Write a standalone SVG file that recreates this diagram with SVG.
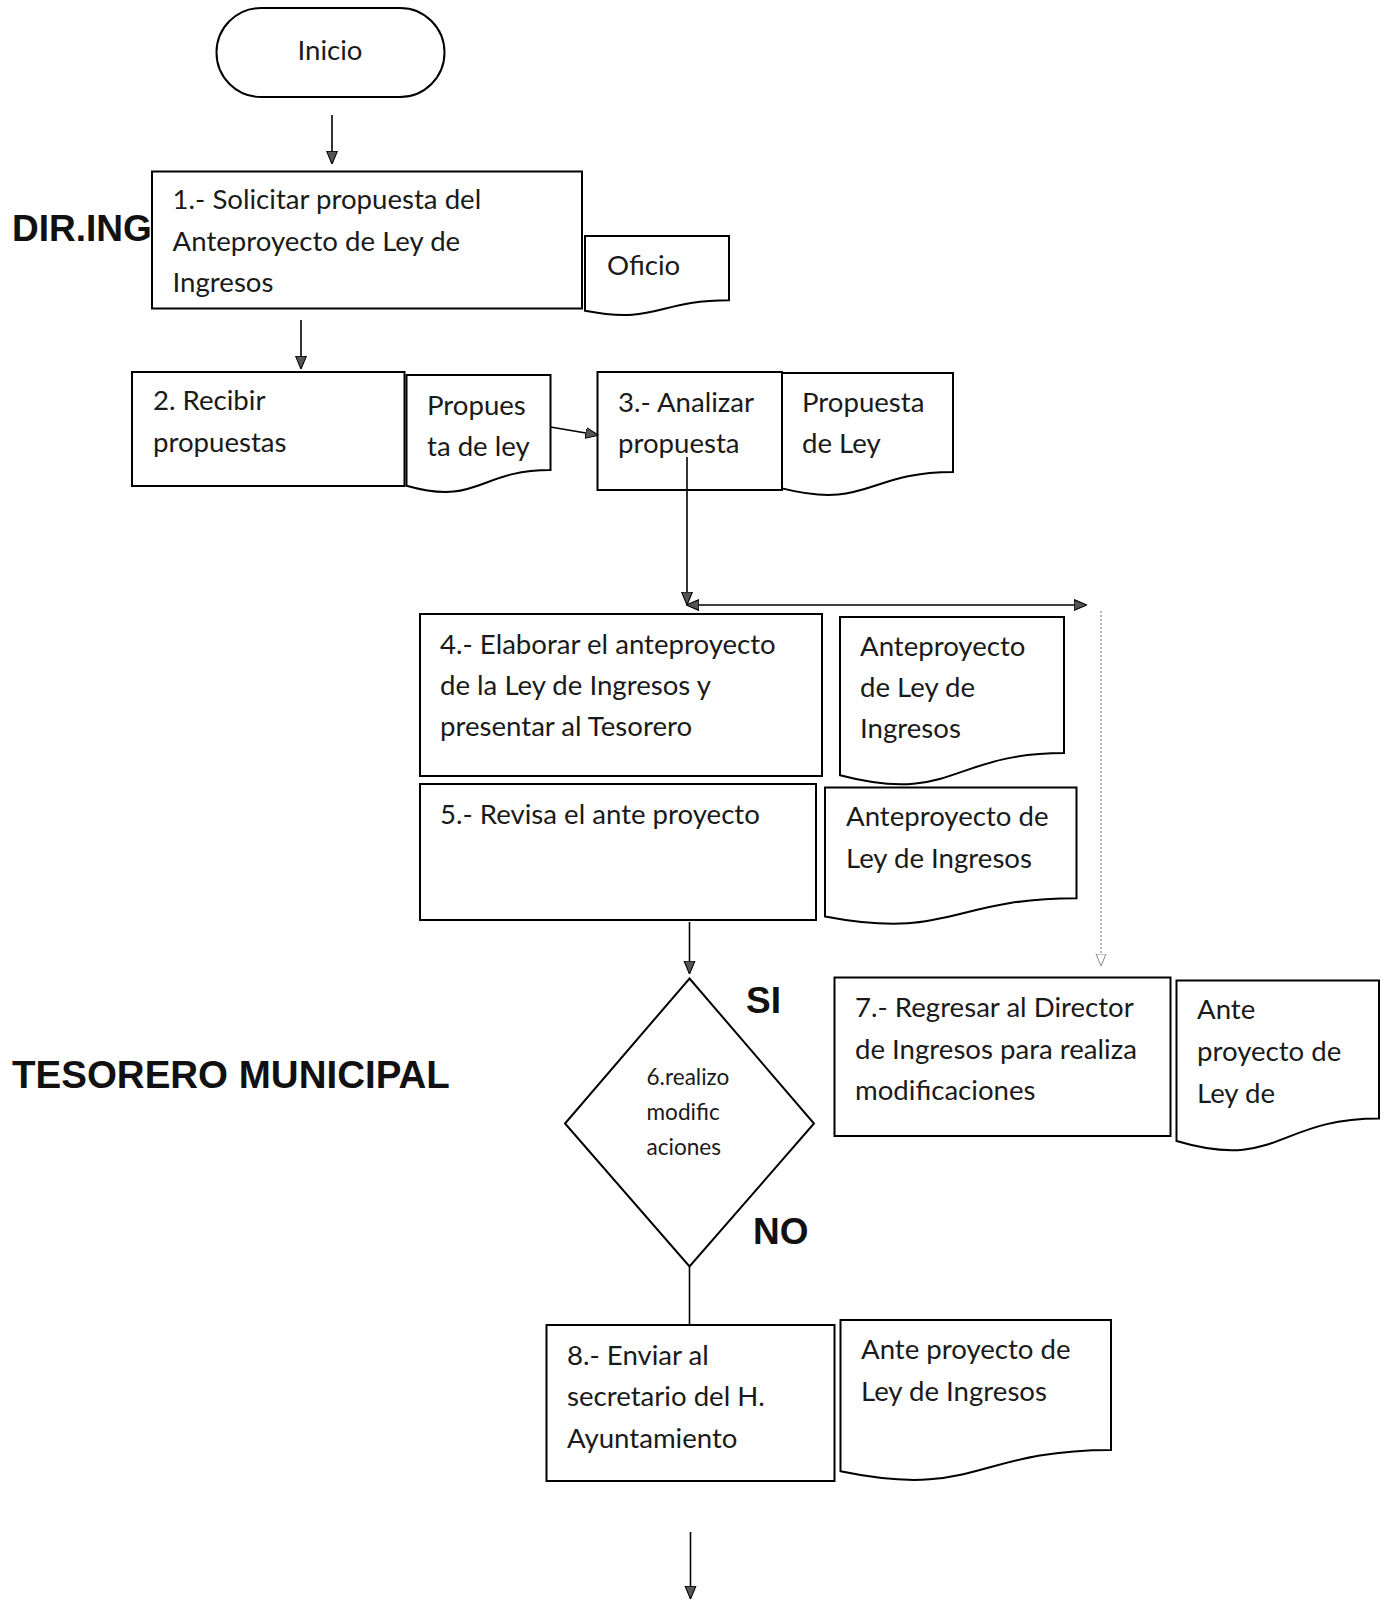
<svg xmlns="http://www.w3.org/2000/svg" width="1387" height="1602" viewBox="0 0 1387 1602">
<defs>
<style>
.box{fill:#fff;stroke:#000;stroke-width:2}
.t{font-family:Lato,"Liberation Sans",sans-serif;font-size:27.6px;fill:#1a1a1a}
.ts{font-family:Lato,"Liberation Sans",sans-serif;font-size:22.6px;fill:#1a1a1a}
.lab{font-family:"Liberation Sans",Arial,sans-serif;font-weight:bold;font-size:37px;fill:#111}
.ln{fill:none;stroke:#000;stroke-width:1.6}
.dot{fill:none;stroke:#888;stroke-width:1.2;stroke-dasharray:2 2}
</style>
<marker id="ah" viewBox="0 0 12 12" refX="11" refY="6" markerWidth="13" markerHeight="13" markerUnits="userSpaceOnUse" orient="auto-start-reverse">
<path d="M0,1 L12,6 L0,11 Z" fill="#555" stroke="#000" stroke-width="1"/>
</marker>
<marker id="ahg" viewBox="0 0 12 12" refX="11" refY="6" markerWidth="12" markerHeight="12" markerUnits="userSpaceOnUse" orient="auto">
<path d="M0,1 L12,6 L0,11 Z" fill="#fff" stroke="#888" stroke-width="1"/>
</marker>
</defs>
<rect width="1387" height="1602" fill="#fff"/>

<text class="lab" x="12" y="241">DIR.ING</text>
<text class="lab" x="12" y="1088" style="font-size:38.5px">TESORERO MUNICIPAL</text>

<g id="inicio">
<rect class="box" x="216.5" y="8" width="228" height="89" rx="44.5"/>
<text class="t" x="330" y="60" text-anchor="middle">Inicio</text>
</g>

<g id="paso1">
<rect class="box" x="152" y="171.5" width="430" height="137"/>
<text class="t" x="172.6" y="209">1.- Solicitar propuesta del</text>
<text class="t" x="172.6" y="251">Anteproyecto de Ley de</text>
<text class="t" x="172.6" y="292">Ingresos</text>
</g>

<g id="doc-oficio">
<path class="box" d="M585,236 H729 V300.2 C657,300.2 657,324.6 585,310.7 Z"/>
<text class="t" x="607" y="274.5">Oficio</text>
</g>

<g id="paso2">
<rect class="box" x="132" y="372" width="272.5" height="114"/>
<text class="t" x="153" y="410">2. Recibir</text>
<text class="t" x="153" y="452">propuestas</text>
</g>

<g id="doc-propuesta1">
<path class="box" d="M406.5,375 H550.5 V470 C478.5,470 478.5,506.2 406.5,485.7 Z"/>
<text class="t" x="427" y="414.5">Propues</text>
<text class="t" x="427" y="456">ta de ley</text>
</g>

<g id="paso3">
<rect class="box" x="597.5" y="372" width="184.5" height="118"/>
<text class="t" x="618" y="411.5">3.- Analizar</text>
<text class="t" x="618" y="453">propuesta</text>
</g>

<g id="doc-propuesta2">
<path class="box" d="M782,373 H953 V472 C867.5,472 867.5,509.8 782,488.4 Z"/>
<text class="t" x="802" y="411.5">Propuesta</text>
<text class="t" x="802" y="453">de Ley</text>
</g>

<g id="paso4">
<rect class="box" x="420" y="614" width="402" height="162"/>
<text class="t" x="440" y="653.5">4.- Elaborar el anteproyecto</text>
<text class="t" x="440" y="695">de la Ley de Ingresos y</text>
<text class="t" x="440" y="736">presentar al Tesorero</text>
</g>

<g id="doc-ante4">
<path class="box" d="M840,617 H1064 V753 C952,753 952,804.7 840,775.3 Z"/>
<text class="t" x="860" y="655.5">Anteproyecto</text>
<text class="t" x="860" y="697">de Ley de</text>
<text class="t" x="860" y="738">Ingresos</text>
</g>

<g id="paso5">
<rect class="box" x="420" y="784" width="396" height="136"/>
<text class="t" x="440" y="824">5.- Revisa el ante proyecto</text>
</g>

<g id="doc-ante5">
<path class="box" d="M825,787.5 H1076.5 V898.2 C950.75,898.2 950.75,940.3 825,916.4 Z"/>
<text class="t" x="846" y="826">Anteproyecto de</text>
<text class="t" x="846" y="868">Ley de Ingresos</text>
</g>

<g id="decision6">
<path class="box" d="M689.5,978.5 L814,1123.5 L689.5,1266.5 L565,1123.5 Z" stroke-width="1.6"/>
<text class="ts" x="646.5" y="1085">6.realizo</text>
<text class="ts" x="646.5" y="1119.5">modific</text>
<text class="ts" x="646.5" y="1154.5">aciones</text>
<text class="lab" x="746" y="1013">SI</text>
<text class="lab" x="753" y="1244">NO</text>
</g>

<g id="paso7">
<rect class="box" x="834.5" y="977.5" width="336" height="158.5"/>
<text class="t" x="855" y="1017">7.- Regresar al Director</text>
<text class="t" x="855" y="1059">de Ingresos para realiza</text>
<text class="t" x="855" y="1100">modificaciones</text>
</g>

<g id="doc-ante7">
<path class="box" d="M1176.5,980.5 H1379 V1118.4 C1277.75,1118.4 1277.75,1171 1176.5,1141 Z"/>
<text class="t" x="1197" y="1019">Ante</text>
<text class="t" x="1197" y="1061">proyecto de</text>
<text class="t" x="1197" y="1103">Ley de</text>
</g>

<g id="paso8">
<rect class="box" x="546.5" y="1325" width="288" height="156"/>
<text class="t" x="567" y="1364.5">8.- Enviar al</text>
<text class="t" x="567" y="1406">secretario del H.</text>
<text class="t" x="567" y="1448">Ayuntamiento</text>
</g>

<g id="doc-ante8">
<path class="box" d="M840.5,1320 H1111 V1449.9 C975.75,1449.9 975.75,1499.4 840.5,1471.3 Z"/>
<text class="t" x="861" y="1359">Ante proyecto de</text>
<text class="t" x="861" y="1401">Ley de Ingresos</text>
</g>

<g id="connectors">
<line class="ln" x1="332" y1="115" x2="332" y2="163" marker-end="url(#ah)"/>
<line class="ln" x1="301" y1="320" x2="301" y2="368" marker-end="url(#ah)"/>
<line class="ln" x1="550.5" y1="427" x2="597.5" y2="435" marker-end="url(#ah)"/>
<line class="ln" x1="687" y1="457" x2="687" y2="604" marker-end="url(#ah)"/>
<line class="ln" x1="687" y1="605" x2="1086" y2="605" marker-start="url(#ah)" marker-end="url(#ah)"/>
<line class="dot" x1="1101" y1="611" x2="1101" y2="965" marker-end="url(#ahg)"/>
<line class="ln" x1="689.5" y1="922" x2="689.5" y2="973" marker-end="url(#ah)"/>
<line class="ln" x1="689.5" y1="1266.5" x2="689.5" y2="1325"/>
<line class="ln" x1="690.5" y1="1532" x2="690.5" y2="1598" marker-end="url(#ah)"/>
</g>
</svg>
